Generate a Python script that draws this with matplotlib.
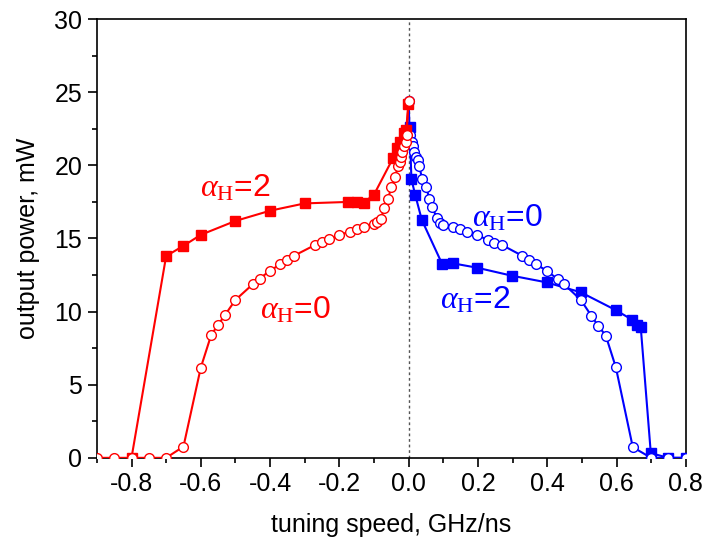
import numpy as np
import matplotlib
matplotlib.use('Agg')
import matplotlib.pyplot as plt
from matplotlib.ticker import MultipleLocator

plt.rcParams['font.family'] = ['Liberation Sans', 'DejaVu Sans']
plt.rcParams['mathtext.fontset'] = 'custom'
plt.rcParams['mathtext.rm'] = 'Liberation Serif'
plt.rcParams['mathtext.it'] = 'Liberation Serif:italic'

# alpha_H = 2, negative tuning (red squares)
x_r2 = [-0.8, -0.7, -0.65, -0.6, -0.5, -0.4, -0.3, -0.175, -0.15, -0.13, -0.1,
        -0.045, -0.035, -0.026, -0.014, -0.007, -0.001]
y_r2 = [0.0, 13.8, 14.5, 15.25, 16.2, 16.9, 17.4, 17.5, 17.47, 17.45, 18.0,
        20.5, 21.2, 21.6, 22.2, 22.4, 24.2]

# alpha_H = 0, negative tuning (red circles)
x_r0 = [-0.9, -0.85, -0.8, -0.75, -0.7, -0.65, -0.6, -0.57, -0.55, -0.53, -0.5,
        -0.45, -0.43, -0.4, -0.37, -0.35, -0.33, -0.27, -0.25, -0.23, -0.2,
        -0.17, -0.15, -0.13, -0.1, -0.09, -0.08, -0.07, -0.06, -0.05, -0.04,
        -0.03, -0.026, -0.022, -0.018, -0.014, -0.009, -0.006, 0.0]
y_r0 = [0.0, 0.0, 0.0, 0.0, 0.0, 0.77, 6.17, 8.4, 9.1, 9.77, 10.8,
        11.87, 12.26, 12.8, 13.24, 13.53, 13.83, 14.56, 14.79, 14.95, 15.24,
        15.47, 15.63, 15.81, 15.97, 16.1, 16.36, 17.1, 17.68, 18.5, 19.18,
        19.96, 20.25, 20.6, 20.9, 21.3, 21.6, 22.1, 24.4]

# alpha_H = 2, positive tuning (blue squares)
x_b2 = [0.003, 0.008, 0.019, 0.038, 0.097, 0.128, 0.198, 0.297, 0.398, 0.497,
        0.598, 0.646, 0.658, 0.67, 0.699, 0.75, 0.8]
y_b2 = [22.6, 19.05, 17.98, 16.27, 13.24, 13.3, 13.0, 12.46, 12.0, 11.32,
        10.1, 9.43, 9.09, 8.93, 0.32, 0.0, 0.0]

# alpha_H = 0, positive tuning (blue circles)
x_b0 = [0.0, 0.003, 0.009, 0.012, 0.016, 0.022, 0.026, 0.03, 0.039, 0.051, 0.06,
        0.068, 0.082, 0.091, 0.099, 0.128, 0.147, 0.168, 0.198, 0.228, 0.247,
        0.269, 0.327, 0.348, 0.367, 0.399, 0.43, 0.449, 0.497, 0.527, 0.547,
        0.569, 0.598, 0.647, 0.7, 0.75, 0.8]
y_b0 = [24.4, 22.1, 21.6, 21.3, 20.9, 20.6, 20.37, 19.98, 19.1, 18.5, 17.68,
        17.13, 16.38, 16.08, 15.93, 15.81, 15.63, 15.47, 15.24, 14.9, 14.72,
        14.56, 13.83, 13.53, 13.26, 12.78, 12.23, 11.87, 10.8, 9.73, 9.04,
        8.36, 6.2, 0.73, 0.0, 0.0, 0.0]

x_ticks = [-0.8, -0.6, -0.4, -0.2, 0.0, 0.2, 0.4, 0.6, 0.8]

red = '#ff0000'
blue = '#0000ff'

fig = plt.figure(figsize=(7.07, 5.47), dpi=100)
ax = fig.add_axes([0.137, 0.163, 0.833, 0.802])

ax.axvline(0, color='#555555', lw=1.0, ls=(0, (2, 2)), zorder=1)

ax.plot(x_b2, y_b2, '-s', color=blue, lw=1.5, ms=7, mec=blue, mfc=blue, zorder=3)
ax.plot(x_b0, y_b0, '-o', color=blue, lw=1.5, ms=7, mec=blue, mfc='white', mew=1.0, zorder=4)
ax.plot(x_r2, y_r2, '-s', color=red, lw=1.5, ms=7, mec=red, mfc=red, zorder=5)
ax.plot(x_r0, y_r0, '-o', color=red, lw=1.5, ms=7, mec=red, mfc='white', mew=1.0, zorder=6)

lbl = dict(fontsize=23, va='baseline', ha='left', zorder=7)
ax.text(-0.601, 17.84, r'$\alpha_\mathrm{H}$=2', color=red, **lbl)
ax.text(-0.43, 9.5, r'$\alpha_\mathrm{H}$=0', color=red, **lbl)
ax.text(0.184, 15.79, r'$\alpha_\mathrm{H}$=0', color=blue, **lbl)
ax.text(0.091, 10.23, r'$\alpha_\mathrm{H}$=2', color=blue, **lbl)

ax.set_xlim(-0.9, 0.8)
ax.set_ylim(0, 30)
ax.set_xticks(x_ticks)
ax.set_xticklabels(['%.1f' % v for v in x_ticks])
ax.xaxis.set_minor_locator(MultipleLocator(0.1))
ax.yaxis.set_major_locator(MultipleLocator(5))
ax.yaxis.set_minor_locator(MultipleLocator(2.5))
ax.tick_params(which='both', direction='out', top=False, right=False, width=1.2,
               labelsize=18, colors='black')
ax.tick_params(which='major', length=6.5, pad=4)
ax.tick_params(which='minor', length=3.6)
for s in ax.spines.values():
    s.set_linewidth(1.2)

ax.set_xlabel('tuning speed, GHz/ns', fontsize=18, labelpad=12)
ax.set_ylabel('output power, mW', fontsize=18, labelpad=10)

fig.savefig('out.png', dpi=100)
